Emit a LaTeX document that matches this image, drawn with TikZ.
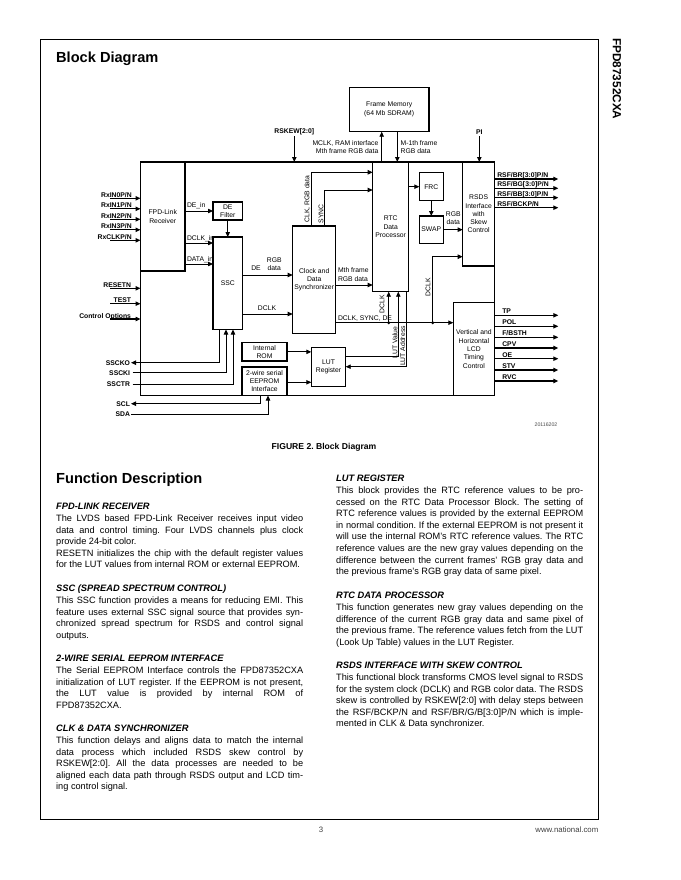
\documentclass[tikz,border=0pt]{standalone}
\usepackage{fontspec}
\setmainfont{Liberation Sans}
\usetikzlibrary{arrows.meta,calc}
\frenchspacing
\newcommand\jl[1]{\hbox to\linewidth{#1}}
\newcommand\lastl[1]{\hbox{#1}}
\newcommand\dfont{\fontsize{6.8}{8.3}\selectfont}
\newcommand\bfont{\fontsize{9.2}{11.6}\selectfont}
\newcommand\hfont{\fontsize{9.3}{11.6}\selectfont\bfseries\itshape}
\begin{document}
\begin{tikzpicture}[x=1pt,y=-1pt,
  box/.style={draw, line width=1.2pt, inner sep=0pt, outer sep=0pt, font=\dfont, align=center},
  arr/.style={line width=0.9pt, -{Triangle[length=5pt,width=4.4pt]}},
  oarr/.style={line width=1.1pt, -{Triangle[length=5pt,width=4.4pt]}},
  ln/.style={line width=0.9pt},
  lbl/.style={font=\dfont, inner sep=0pt, outer sep=0pt},
  pin/.style={font=\dfont\bfseries, inner sep=0pt, outer sep=0pt},
  dot/.style={circle, fill, inner sep=0pt, minimum size=3.2pt},
  head/.style={font=\hfont, inner sep=0pt, anchor=base west},
  para/.style={inner sep=0pt, anchor=base west, font=\bfont}]
\useasboundingbox (0,0) rectangle (680,880);
\fill[white] (0,0) rectangle (680,880);
% page frame
\draw[line width=0.9pt] (40.5,39) rectangle (598.5,819);
\node[font=\fontsize{14.6}{16}\selectfont\bfseries, inner sep=0pt, anchor=base west] (title) at (56,62.5) {Block Diagram};
\node[font=\fontsize{11.8}{13}\selectfont\bfseries, inner sep=0pt, rotate=-90, anchor=west] (partno) at (617,38) {FPD87352CXA};

% ---------- blocks ----------
\node[box, minimum width=354pt, minimum height=233.5pt] (chip) at (317.5,278.75) {};
\node[box, minimum width=44.5pt, minimum height=109pt] (fpd) at (162.75,216.5) {FPD-Link\\Receiver};
\node[box, minimum width=29.5pt, minimum height=18pt] (defilt) at (227.75,211) {DE\\Filter};
\node[box, minimum width=29.5pt, minimum height=92.5pt] (ssc) at (227.75,283.25) {SSC};
\node[box, minimum width=43pt, minimum height=107.3pt] (sync) at (314.2,279.65) {Clock and\\Data\\Synchronizer};
\node[box, minimum width=36pt, minimum height=129.7pt] (rtc) at (390.7,226.85) {RTC\\Data\\Processor};
\node[box, minimum width=24pt, minimum height=28pt] (frc) at (431.3,186.7) {FRC};
\node[box, minimum width=24pt, minimum height=27.3pt] (swap) at (431.3,229.65) {SWAP};
\node[box, minimum width=31.8pt, minimum height=104pt] (rsds) at (478.6,214) {RSDS\\Interface\\with\\Skew\\Control};
\node[box, minimum width=41.2pt, minimum height=92.8pt] (vlcd) at (473.9,349.1) {Vertical and\\Horizontal\\LCD\\Timing\\Control};
\node[box, minimum width=79.7pt, minimum height=44.4pt] (fmem) at (389.15,109.5) {Frame Memory\\(64 Mb SDRAM)};
\node[box, minimum width=45pt, minimum height=18.3pt] (rom) at (264.5,351.85) {Internal\\ROM};
\node[box, minimum width=45pt, minimum height=28.5pt] (eeprom) at (264.5,381.25) {2-wire serial\\EEPROM\\Interface};
\node[box, minimum width=34.4pt, minimum height=39.4pt] (lut) at (328.5,367) {LUT\\Register};

% ---------- left inputs ----------
\coordinate (rx0) at (110,198.3);
\coordinate (rx1) at (110,208.8);
\coordinate (rx2) at (110,219.3);
\coordinate (rx3) at (110,229.8);
\coordinate (rx4) at (110,240.3);
\draw[oarr] (rx0) -- (rx0 -| fpd.west);
\draw[oarr] (rx1) -- (rx1 -| fpd.west);
\draw[oarr] (rx2) -- (rx2 -| fpd.west);
\draw[oarr] (rx3) -- (rx3 -| fpd.west);
\draw[oarr] (rx4) -- (rx4 -| fpd.west);
\node[pin, anchor=base east] (trx0) at (131.7,197.3) {RxIN0P/N};
\node[pin, anchor=base east] (trx1) at (131.7,207.8) {RxIN1P/N};
\node[pin, anchor=base east] (trx2) at (131.7,218.3) {RxIN2P/N};
\node[pin, anchor=base east] (trx3) at (131.7,228.8) {RxIN3P/N};
\node[pin, anchor=base east] (trx4) at (131.7,239.3) {RxCLKP/N};

\coordinate (rst) at (110,288.3);
\coordinate (tst) at (110,303.7);
\coordinate (cop) at (110,319);
\draw[oarr] (rst) -- (rst -| chip.west);
\draw[oarr] (tst) -- (tst -| chip.west);
\draw[oarr] (cop) -- (cop -| chip.west);
\node[pin, anchor=base east] (trst) at (131,287.3) {RESETN};
\node[pin, anchor=base east] (ttst) at (131,302.7) {TEST};
\node[pin, anchor=base east] (tcop) at (131,318) {Control Options};

% SSC pins
\coordinate (sscko) at (131,362.7);
\coordinate (sscki) at (132.5,372.7);
\coordinate (ssctr) at (132.5,384);
\coordinate (ko) at (219.5,0);
\coordinate (ki) at (226,0);
\coordinate (tr) at (233,0);
\draw[arr] (ssc.south -| ko) |- (sscko);
\draw[arr] (sscki) -| (ssc.south -| ki);
\draw[arr] (ssctr) -| (ssc.south -| tr);
\node[pin, anchor=east] (tsscko) at (130,362.7) {SSCKO};
\node[pin, anchor=east] (tsscki) at (130,372.7) {SSCKI};
\node[pin, anchor=east] (tssctr) at (130,384) {SSCTR};

% SCL / SDA
\coordinate (scl) at (131,403.7);
\coordinate (sda) at (131,414.3);
\coordinate (cl) at (260,0);
\coordinate (da) at (268,0);
\draw[arr] (eeprom.south -| cl) |- (scl);
\draw[arr] (sda) -| (eeprom.south -| da);
\node[pin, anchor=east] (tscl) at (130,403.7) {SCL};
\node[pin, anchor=east] (tsda) at (130,414.3) {SDA};

% FPD -> DE filter / SSC
\coordinate (dci) at (185,243);
\coordinate (dai) at (185,264);
\draw[arr] (fpd.east |- defilt.west) -- (defilt.west);
\draw[arr] (dci) -- (ssc.west |- dci);
\draw[arr] (dai) -- (ssc.west |- dai);
\node[lbl, anchor=base west] (tdein) at (187,207.5) {DE\_in};
\node[lbl, anchor=base west] (tdcin) at (187,240.8) {DCLK\_in};
\node[lbl, anchor=base west] (tdain) at (187,261.8) {DATA\_in};
\draw[arr] (defilt.south) -- (ssc.north);

% SSC -> sync
\coordinate (s1) at (243,275);
\coordinate (s2) at (243,314);
\draw[arr] (ssc.east |- s1) -- (sync.west |- s1);
\draw[arr] (ssc.east |- s2) -- (sync.west |- s2);
\node[lbl] (tde) at (256,268.5) {DE};
\node[lbl, align=center] (trgb1) at (274.3,264.5) {RGB\\data};
\node[lbl] (tdclk1) at (267,308.5) {DCLK};

% sync -> RTC
\coordinate (c1) at (311,172.3);
\coordinate (c2) at (324.5,190);
\coordinate (mth) at (340,285);
\draw[arr] (sync.north -| c1) -- (c1) -- (rtc.west |- c1);
\draw[arr] (sync.north -| c2) -- (c2) -- (rtc.west |- c2);
\draw[arr] (sync.east |- mth) -- (rtc.west |- mth);
\node[lbl, rotate=90] (tclk) at (307.3,199) {CLK, RGB data};
\node[lbl, rotate=90] (tsync) at (321,214) {SYNC};
\node[lbl, align=left, anchor=west] (tmth) at (338,274.7) {Mth frame\\RGB data};

% DCLK, SYNC, DE bus
\node[dot] (d1) at (388.7,322.7) {};
\node[dot] (d2) at (432.7,322.7) {};
\draw[arr] (sync.east |- d1) -- (vlcd.west |- d1);
\node[lbl, anchor=base west] (tbus) at (338,320.6) {DCLK, SYNC, DE};
\draw[arr] (d1.center) -- (rtc.south -| d1);
\node[lbl, rotate=90] (tdclk2) at (382,304) {DCLK};
\coordinate (dr) at (432.7,256.7);
\draw[arr] (d2.center) -- (dr) -- (rsds.west |- dr);
\node[lbl, rotate=90] (tdclk3) at (428,287) {DCLK};

% LUT <-> RTC
\coordinate (lv) at (398.3,356);
\coordinate (la) at (406.3,366.7);
\draw[arr] (lut.east |- lv) -- (lv) -- (rtc.south -| lv);
\draw[arr] (rtc.south -| la) -- (la) -- (lut.east |- la);
\node[lbl, rotate=90] (tlv) at (395,342.5) {LUT Value};
\node[lbl, rotate=90] (tla) at (402.7,346) {LUT Address};

% ROM / EEPROM -> LUT
\coordinate (ee) at (287,382.3);
\draw[arr] (rom.east) -- (lut.west |- rom.east);
\draw[arr] (eeprom.east |- ee) -- (lut.west |- ee);

% frame memory
\coordinate (fm1) at (381.7,162);
\coordinate (fm2) at (397.3,162);
\draw[arr] (fm1) -- (fmem.south -| fm1);
\draw[arr] (fmem.south -| fm2) -- (fm2);
\node[lbl, align=right, anchor=east] (tmclk) at (378.3,147.2) {MCLK, RAM interface\\Mth frame RGB data};
\node[lbl, align=left, anchor=west] (tm1) at (400.7,147.2) {M-1th frame\\RGB data};

% RSKEW / PI
\node[pin] (rskew) at (294.3,131.7) {RSKEW[2:0]};
\node[pin] (pi) at (479.3,131.7) {PI};
\coordinate (rk) at (294.3,136);
\coordinate (pk) at (479.3,136);
\draw[arr] (rk) -- (rk |- chip.north);
\draw[arr] (pk) -- (pk |- rsds.north);

% RTC -> FRC -> SWAP -> RSDS
\draw[arr] (rtc.east |- frc.west) -- (frc.west);
\draw[arr] (frc.south) -- (swap.north);
\draw[arr] (swap.east) -- (rsds.west |- swap.east);
\node[lbl, align=center] (trgb2) at (453.3,218.5) {RGB\\data};

% RSDS outputs
\coordinate (ro1) at (558.3,179);
\coordinate (ro2) at (558.3,188.3);
\coordinate (ro3) at (558.3,197.7);
\coordinate (ro4) at (558.3,207.7);
\draw[oarr] (rsds.east |- ro1) -- (ro1);
\draw[oarr] (rsds.east |- ro2) -- (ro2);
\draw[oarr] (rsds.east |- ro3) -- (ro3);
\draw[oarr] (rsds.east |- ro4) -- (ro4);
\node[pin, anchor=base west] (tro1) at (497.3,177.5) {RSF/BR[3:0]P/N};
\node[pin, anchor=base west] (tro2) at (497.3,186.8) {RSF/BG[3:0]P/N};
\node[pin, anchor=base west] (tro3) at (497.3,196.2) {RSF/BB[3:0]P/N};
\node[pin, anchor=base west] (tro4) at (497.3,206.2) {RSF/BCKP/N};

% timing outputs
\coordinate (vo1) at (558.3,315.3);
\coordinate (vo2) at (558.3,326.3);
\coordinate (vo3) at (558.3,337.3);
\coordinate (vo4) at (558.3,348);
\coordinate (vo5) at (558.3,358.7);
\coordinate (vo6) at (558.3,370);
\coordinate (vo7) at (558.3,381);
\draw[oarr] (vlcd.east |- vo1) -- (vo1);
\draw[oarr] (vlcd.east |- vo2) -- (vo2);
\draw[oarr] (vlcd.east |- vo3) -- (vo3);
\draw[oarr] (vlcd.east |- vo4) -- (vo4);
\draw[oarr] (vlcd.east |- vo5) -- (vo5);
\draw[oarr] (vlcd.east |- vo6) -- (vo6);
\draw[oarr] (vlcd.east |- vo7) -- (vo7);
\node[pin, anchor=base west] (tvo1) at (502.3,313.6) {TP};
\node[pin, anchor=base west] (tvo2) at (502.3,324.6) {POL};
\node[pin, anchor=base west] (tvo3) at (502.3,335.6) {F/BSTH};
\node[pin, anchor=base west] (tvo4) at (502.3,346.3) {CPV};
\node[pin, anchor=base west] (tvo5) at (502.3,357) {OE};
\node[pin, anchor=base west] (tvo6) at (502.3,368.3) {STV};
\node[pin, anchor=base west] (tvo7) at (502.3,379.3) {RVC};

\node[font=\fontsize{5.2}{6}\selectfont, text=black!70, inner sep=0pt] (fignum) at (546,424.3) {20116202};
\node[font=\fontsize{8.6}{10}\selectfont\bfseries, inner sep=0pt] (caption) at (324,447) {FIGURE 2. Block Diagram};

% ---------- text ----------
\node[font=\fontsize{14.6}{16}\selectfont\bfseries, inner sep=0pt, anchor=base west] (fdesc) at (56,483.5) {Function Description};

\node[head] (h1) at (56,509.5) {FPD-LINK RECEIVER};
\node[para] (p1) at (56,521.5) {\parbox[t]{247pt}{%
\jl{The LVDS based FPD-Link Receiver receives input video}%
\jl{data and control timing. Four LVDS channels plus clock}%
\lastl{provide 24-bit color.}%
\jl{RESETN initializes the chip with the default register values}%
\lastl{for the LUT values from internal ROM or external EEPROM.}}};

\node[head] (h2) at (56,591.5) {SSC (SPREAD SPECTRUM CONTROL)};
\node[para] (p2) at (56,603.5) {\parbox[t]{247pt}{%
\jl{This SSC function provides a means for reducing EMI. This}%
\jl{feature uses external SSC signal source that provides syn-}%
\jl{chronized spread spectrum for RSDS and control signal}%
\lastl{outputs.}}};

\node[head] (h3) at (56,661.5) {2-WIRE SERIAL EEPROM INTERFACE};
\node[para] (p3) at (56,673.5) {\parbox[t]{247pt}{%
\jl{The Serial EEPROM Interface controls the FPD87352CXA}%
\jl{initialization of LUT register. If the EEPROM is not present,}%
\jl{the LUT value is provided by internal ROM of}%
\lastl{FPD87352CXA.}}};

\node[head] (h4) at (56,731.5) {CLK \& DATA SYNCHRONIZER};
\node[para] (p4) at (56,743.5) {\parbox[t]{247pt}{%
\jl{This function delays and aligns data to match the internal}%
\jl{data process which included RSDS skew control by}%
\jl{RSKEW[2:0]. All the data processes are needed to be}%
\jl{aligned each data path through RSDS output and LCD tim-}%
\lastl{ing control signal.}}};

\node[head] (h5) at (336,481.5) {LUT REGISTER};
\node[para] (p5) at (336,493.5) {\parbox[t]{247pt}{%
\jl{This block provides the RTC reference values to be pro-}%
\jl{cessed on the RTC Data Processor Block. The setting of}%
\jl{RTC reference values is provided by the external EEPROM}%
\jl{in normal condition. If the external EEPROM is not present it}%
\jl{will use the internal ROM's RTC reference values. The RTC}%
\jl{reference values are the new gray values depending on the}%
\jl{difference between the current frames' RGB gray data and}%
\lastl{the previous frame's RGB gray data of same pixel.}}};

\node[head] (h6) at (336,598.5) {RTC DATA PROCESSOR};
\node[para] (p6) at (336,610.5) {\parbox[t]{247pt}{%
\jl{This function generates new gray values depending on the}%
\jl{difference of the current RGB gray data and same pixel of}%
\jl{the previous frame. The reference values fetch from the LUT}%
\lastl{(Look Up Table) values in the LUT Register.}}};

\node[head] (h7) at (336,668.5) {RSDS INTERFACE WITH SKEW CONTROL};
\node[para] (p7) at (336,680.5) {\parbox[t]{247pt}{%
\jl{This functional block transforms CMOS level signal to RSDS}%
\jl{for the system clock (DCLK) and RGB color data. The RSDS}%
\jl{skew is controlled by RSKEW[2:0] with delay steps between}%
\jl{the RSF/BCKP/N and RSF/BR/G/B[3:0]P/N which is imple-}%
\lastl{mented in CLK \& Data synchronizer.}}};

% footer
\node[font=\fontsize{7.8}{9}\selectfont, text=black!75, inner sep=0pt] (pgno) at (321,829.5) {3};
\node[font=\fontsize{7.8}{9}\selectfont, text=black!75, inner sep=0pt, anchor=east] (url) at (598.5,829.5) {www.national.com};
\end{tikzpicture}
\end{document}
